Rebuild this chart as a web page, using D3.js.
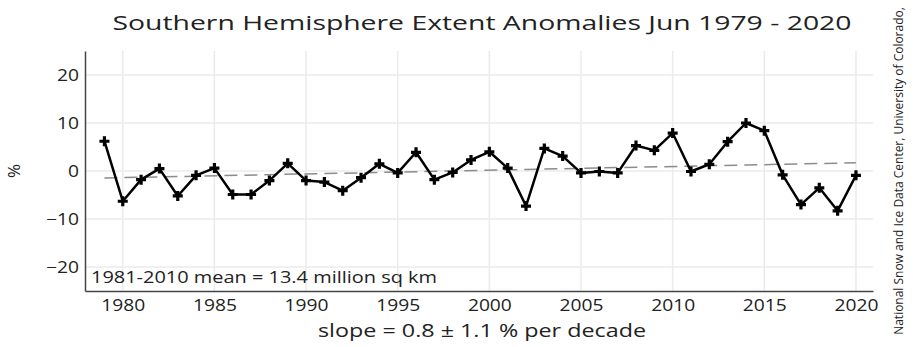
<!DOCTYPE html>
<html><head><meta charset="utf-8">
<script src="https://cdn.jsdelivr.net/npm/d3@7"></script>
<style>
html,body{margin:0;padding:0;background:#fff;}
text{font-family:"Open Sans",sans-serif;fill:#222;}
</style></head>
<body><svg id="c" width="915" height="347"></svg>
<script>
const years = d3.range(1979, 2021);
const anomalies = [6.2,-6.3,-1.8,0.5,-5.2,-0.9,0.6,-4.9,-4.9,-2.0,1.6,-2.0,-2.3,-4.1,-1.4,1.5,-0.4,3.9,-1.8,-0.3,
  2.3,4.0,0.6,-7.3,4.7,3.1,-0.4,-0.1,-0.4,5.3,4.3,7.9,-0.1,1.4,6.1,10.0,8.4,-0.8,-7.0,-3.5,-8.3,-0.9];
const xTicks = [1980,1985,1990,1995,2000,2005,2010,2015,2020];
const yTicks = [-20,-10,0,10,20];
const titleText = "Southern Hemisphere Extent Anomalies Jun 1979 - 2020";
const xLabel = "slope = 0.8 \u00b1 1.1 % per decade";
const yLabel = "%";
const meanNote = "1981-2010 mean = 13.4 million sq km";
const sourceText = "National Snow and Ice Data Center, University of Colorado,";

const svg = d3.select("#c");
const L=85, R=873, T=51, B=291;
const x = d3.scaleLinear().domain([1977.94, 2020.93]).range([L,R]);
const y = d3.scaleLinear().domain([-25,25]).range([B,T]);
const SX = 1.2;
function stretch(sel){ sel.each(function(){ const w=this.getComputedTextLength(); d3.select(this).attr("textLength", w*SX).attr("lengthAdjust","spacingAndGlyphs"); }); }

// grid
svg.append("g").selectAll("line").data(xTicks).join("line")
  .attr("x1",d=>x(d)).attr("x2",d=>x(d)).attr("y1",T).attr("y2",B)
  .attr("stroke","#ebebeb").attr("stroke-width",1.5);
svg.append("g").selectAll("line").data(yTicks).join("line")
  .attr("x1",L).attr("x2",R).attr("y1",d=>y(d)).attr("y2",d=>y(d))
  .attr("stroke","#ebebeb").attr("stroke-width",1.5);

// axes
const xa = svg.append("g").attr("transform",`translate(0,${B})`)
  .call(d3.axisBottom(x).tickValues(xTicks).tickFormat(d3.format("d")).tickSize(0).tickPadding(9));
xa.select(".domain").attr("stroke","#444").attr("stroke-width",1.5);
xa.selectAll("text").attr("font-size",16).attr("fill","#222").style("font-family","Open Sans");
const ya = svg.append("g").attr("transform",`translate(${L},0)`)
  .call(d3.axisLeft(y).tickValues(yTicks).tickSize(0).tickPadding(6));
ya.select(".domain").attr("stroke","#444").attr("stroke-width",1.5);
ya.selectAll("text").attr("font-size",16).attr("fill","#222").style("font-family","Open Sans");
stretch(xa.selectAll("text")); stretch(ya.selectAll("text"));

// trend
const pts = years.map((yr,i)=>[yr,anomalies[i]]);
const mx=d3.mean(years), my=d3.mean(anomalies);
const slope = d3.sum(pts,p=>(p[0]-mx)*(p[1]-my))/d3.sum(pts,p=>(p[0]-mx)**2);
const icpt = my - slope*mx;
svg.append("line").attr("x1",x(1979)).attr("x2",x(2020))
  .attr("y1",y(icpt+slope*1979)).attr("y2",y(icpt+slope*2020))
  .attr("stroke","#8c8c8c").attr("stroke-width",1.5).attr("stroke-dasharray","13,7");

// line
svg.append("path").datum(pts)
  .attr("d", d3.line().x(d=>x(d[0])).y(d=>y(d[1])))
  .attr("fill","none").attr("stroke","#000").attr("stroke-width",2.5).attr("stroke-linejoin","round");
svg.append("g").selectAll("path").data(pts).join("path")
  .attr("d", d=>{const cx=x(d[0]), cy=y(d[1]), s=5; return `M${cx-s},${cy}H${cx+s}M${cx},${cy-s}V${cy+s}`;})
  .attr("stroke","#000").attr("stroke-width",3.2);

// texts
svg.append("text").attr("x",482).attr("y",30).attr("text-anchor","middle").attr("font-size",20)
  .attr("textLength",739).attr("lengthAdjust","spacingAndGlyphs").text(titleText);
svg.append("text").attr("x",482).attr("y",337).attr("text-anchor","middle").attr("font-size",19)
  .attr("textLength",328).attr("lengthAdjust","spacingAndGlyphs").text(xLabel);
svg.append("text").attr("x",91).attr("y",283).attr("font-size",17)
  .attr("textLength",346).attr("lengthAdjust","spacingAndGlyphs").text(meanNote);
svg.append("text").attr("transform","translate(20,171) rotate(-90)").attr("text-anchor","middle").attr("font-size",17).text(yLabel);
const src = svg.append("text").attr("text-anchor","middle").attr("font-size",12.5).text(sourceText);
const natural = src.node().getComputedTextLength();
src.attr("transform",`translate(903,171) rotate(-90) scale(${328/natural},1)`);
</script></body></html>
